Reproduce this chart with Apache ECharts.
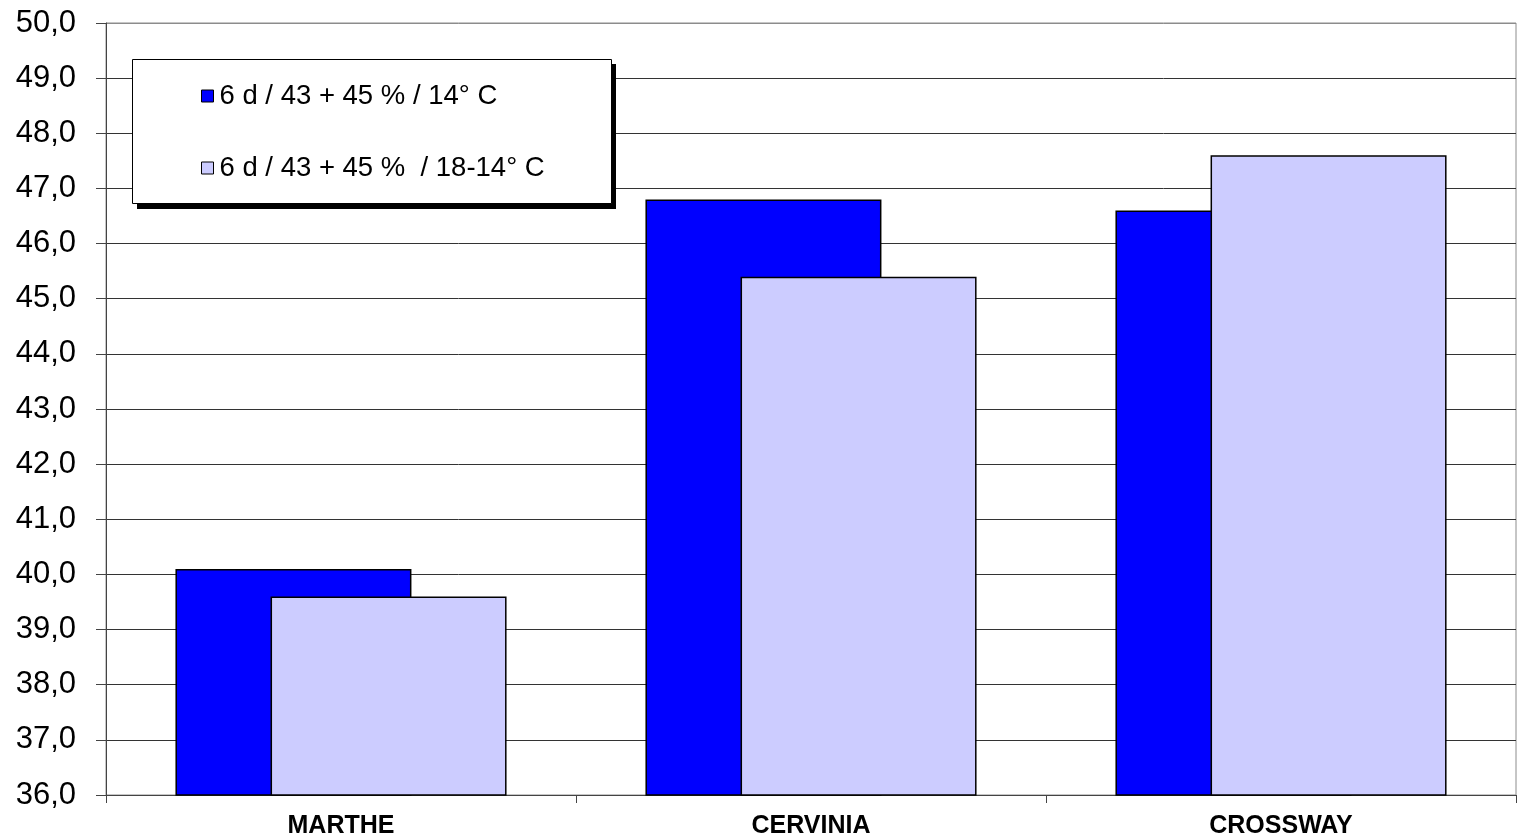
<!DOCTYPE html>
<html>
<head>
<meta charset="utf-8">
<script src="https://cdn.jsdelivr.net/npm/echarts@6/dist/echarts.min.js"></script>
<style>
html,body{margin:0;padding:0;background:#fff;}
#chart{width:1519px;height:839px;}
</style>
</head>
<body>
<div id="chart"></div>
<script>
const categories = ['MARTHE', 'CERVINIA', 'CROSSWAY'];
const seriesNames = ['6 d / 43 + 45 % / 14° C', '6 d / 43 + 45 %  / 18-14° C'];
const values14 = [40.1, 46.8, 46.6];
const values1814 = [39.6, 45.4, 47.6];
const yMin = 36, yMax = 50, yStep = 1;

const FONT = '"Liberation Sans", Arial, sans-serif';
const splitColors = [];
for (let v = yMin; v <= yMax; v += yStep) splitColors.push(v === yMax ? '#8c8c8c' : '#333333');

const chart = echarts.init(document.getElementById('chart'));
chart.setOption({
  animation: false,
  backgroundColor: '#ffffff',
  grid: {left: 106, right: 3, top: 23, bottom: 43, show: true, borderColor: '#8c8c8c', borderWidth: 1, backgroundColor: 'transparent'},
  xAxis: {
    type: 'category',
    data: categories,
    axisLine: {lineStyle: {color: '#444', width: 1}},
    axisTick: {show: true, length: 8, lineStyle: {color: '#444'}},
    axisLabel: {color: '#000', fontFamily: FONT, fontSize: 25, fontWeight: 'bold', margin: 19}
  },
  yAxis: {
    type: 'value',
    min: yMin, max: yMax, interval: yStep,
    axisLine: {show: true, lineStyle: {color: '#444', width: 1}},
    axisTick: {show: true, length: 10, lineStyle: {color: '#444'}},
    axisLabel: {color: '#000', fontFamily: FONT, fontSize: 31, margin: 30,
      formatter: v => v.toFixed(1).replace('.', ',')},
    splitLine: {show: true, lineStyle: {color: splitColors, width: 1}}
  },
  legend: [
    {data: [seriesNames[0]], left: 201, top: 81, padding: 0, itemWidth: 12, itemHeight: 12, z: 20,
     icon: 'rect', itemStyle: {borderColor: '#000', borderWidth: 1},
     textStyle: {fontFamily: FONT, fontSize: 27.5, color: '#000', lineHeight: 30, padding: [0,0,0,1]}},
    {data: [seriesNames[1]], left: 201, top: 153, padding: 0, itemWidth: 12, itemHeight: 12, z: 20,
     icon: 'rect', itemStyle: {borderColor: '#000', borderWidth: 1},
     textStyle: {fontFamily: FONT, fontSize: 27.5, color: '#000', lineHeight: 30, padding: [0,0,0,1]}}
  ],
  graphic: [
    {type: 'rect', z: 10, shape: {x: 137, y: 64, width: 479, height: 145}, style: {fill: '#000'}},
    {type: 'rect', z: 11, shape: {x: 132.5, y: 59.5, width: 479, height: 144}, style: {fill: '#fff', stroke: '#000', lineWidth: 1}}
  ],
  series: [
    {name: seriesNames[0], type: 'bar', data: values14, barWidth: 236, barGap: '-59.7%',
     itemStyle: {color: '#0000ff', borderColor: '#000', borderWidth: 1.5}},
    {name: seriesNames[1], type: 'bar', data: values1814, barWidth: 236, barGap: '-59.7%',
     itemStyle: {color: '#ccccff', borderColor: '#000', borderWidth: 1.5}}
  ]
});
</script>
</body>
</html>
